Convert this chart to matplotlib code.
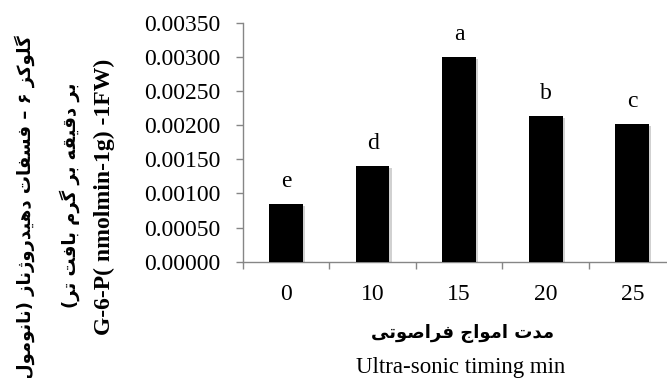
import matplotlib
matplotlib.use("Agg")
import matplotlib.pyplot as plt
import matplotlib.patheffects as pe
import numpy as np

# ultrasonic exposure (min) vs G-6-P dehydrogenase activity
timing = ["0", "10", "15", "20", "25"]
activity = [0.00085, 0.00140, 0.00300, 0.00214, 0.00202]
groups = ["e", "d", "a", "b", "c"]
yticks = [0.0, 0.0005, 0.0010, 0.0015, 0.0020, 0.0025, 0.0030, 0.0035]

ylabel_fa1 = "گلوکز ۶ – فسفات دهیدروژناز (نانومول"
ylabel_fa2 = "بر دقیقه بر گرم بافت تر)"
ylabel_en = "G-6-P( nmolmin-1g) -1FW)"
xlabel_fa = "مدت امواج فراصوتی"
xlabel_en = "Ultra-sonic timing min"

# contextual forms: isolated, final, initial, medial
FORMS = {
    "ا": ("\uFE8D", "\uFE8E", None, None),
    "ب": ("\uFE8F", "\uFE90", "\uFE91", "\uFE92"),
    "ت": ("\uFE95", "\uFE96", "\uFE97", "\uFE98"),
    "ج": ("\uFE9D", "\uFE9E", "\uFE9F", "\uFEA0"),
    "د": ("\uFEA9", "\uFEAA", None, None),
    "ر": ("\uFEAD", "\uFEAE", None, None),
    "ز": ("\uFEAF", "\uFEB0", None, None),
    "ژ": ("\uFB8A", "\uFB8B", None, None),
    "س": ("\uFEB1", "\uFEB2", "\uFEB3", "\uFEB4"),
    "ص": ("\uFEB9", "\uFEBA", "\uFEBB", "\uFEBC"),
    "ف": ("\uFED1", "\uFED2", "\uFED3", "\uFED4"),
    "ق": ("\uFED5", "\uFED6", "\uFED7", "\uFED8"),
    "ک": ("\uFB8E", "\uFB8F", "\uFB90", "\uFB91"),
    "گ": ("\uFB92", "\uFB93", "\uFB94", "\uFB95"),
    "ل": ("\uFEDD", "\uFEDE", "\uFEDF", "\uFEE0"),
    "م": ("\uFEE1", "\uFEE2", "\uFEE3", "\uFEE4"),
    "ن": ("\uFEE5", "\uFEE6", "\uFEE7", "\uFEE8"),
    "ه": ("\uFEE9", "\uFEEA", "\uFEEB", "\uFEEC"),
    "و": ("\uFEED", "\uFEEE", None, None),
    "ی": ("\uFBFC", "\uFBFD", "\uFBFE", "\uFBFF"),
}


def persian(text):
    # join letters and lay them out right-to-left
    out = []
    for i, ch in enumerate(text):
        f = FORMS.get(ch)
        if f is None:
            out.append(ch)
            continue
        prev = text[i - 1] if i > 0 else ""
        nxt = text[i + 1] if i + 1 < len(text) else ""
        join_prev = prev in FORMS and FORMS[prev][2] is not None
        join_next = nxt in FORMS and f[2] is not None
        if join_prev and join_next:
            out.append(f[3])
        elif join_prev:
            out.append(f[1])
        elif join_next:
            out.append(f[2])
        else:
            out.append(f[0])
    vis = "".join(reversed(out))
    return vis.translate(str.maketrans("()", ")("))


serif = ["Liberation Serif", "DejaVu Serif"]
fa_font = ["DejaVu Sans"]

fig = plt.figure(figsize=(6.67, 3.78), dpi=100)
ax = fig.add_axes([0.3639, 0.3077, 0.649, 0.6323])

x = np.arange(len(timing))
bars = ax.bar(x, activity, width=0.39, color="black", zorder=3)
for b in bars:
    b.set_path_effects([pe.SimplePatchShadow(offset=(1.5, -1.5), alpha=0.18), pe.Normal()])

for xi, v, g in zip(x, activity, groups):
    ax.annotate(g, (xi, v), xytext=(0, 12), textcoords="offset points",
                ha="center", va="baseline", fontsize=17, family=serif)

ax.set_xlim(-0.5, 4.5)
ax.set_ylim(0, 0.0035)
ax.set_yticks(yticks)
ax.set_yticklabels([f"{t:.5f}" for t in yticks], family=serif, fontsize=17)
ax.set_xticks(x)
ax.set_xticklabels(timing, family=serif, fontsize=17)
ax.set_xticks(np.arange(-0.5, 5.0, 1.0), minor=True)

ax.tick_params(axis="y", direction="out", length=5, width=1, color="#868686", pad=11)
ax.tick_params(axis="x", which="major", length=0, pad=16)
ax.tick_params(axis="x", which="minor", direction="out", length=5, width=1, color="#868686")

for side in ["top", "right"]:
    ax.spines[side].set_visible(False)
for side in ["left", "bottom"]:
    ax.spines[side].set_color("#868686")
    ax.spines[side].set_linewidth(1)

# stacked axis titles
fig.text(0.0375, 0.452, persian(ylabel_fa1), rotation=90, ha="center", va="center",
         family=fa_font, fontweight="bold", fontsize=13)
fig.text(0.105, 0.484, persian(ylabel_fa2), rotation=90, ha="center", va="center",
         family=fa_font, fontweight="bold", fontsize=13)
fig.text(0.156, 0.479, ylabel_en, rotation=90, ha="center", va="center",
         family=serif, fontweight="bold", fontsize=17)
fig.text(0.693, 0.119, persian(xlabel_fa), ha="center", va="center",
         family=fa_font, fontweight="bold", fontsize=13)
fig.text(0.69, 0.029, xlabel_en, ha="center", va="center",
         family=serif, fontsize=16.5)

fig.savefig("out.png", dpi=100)
